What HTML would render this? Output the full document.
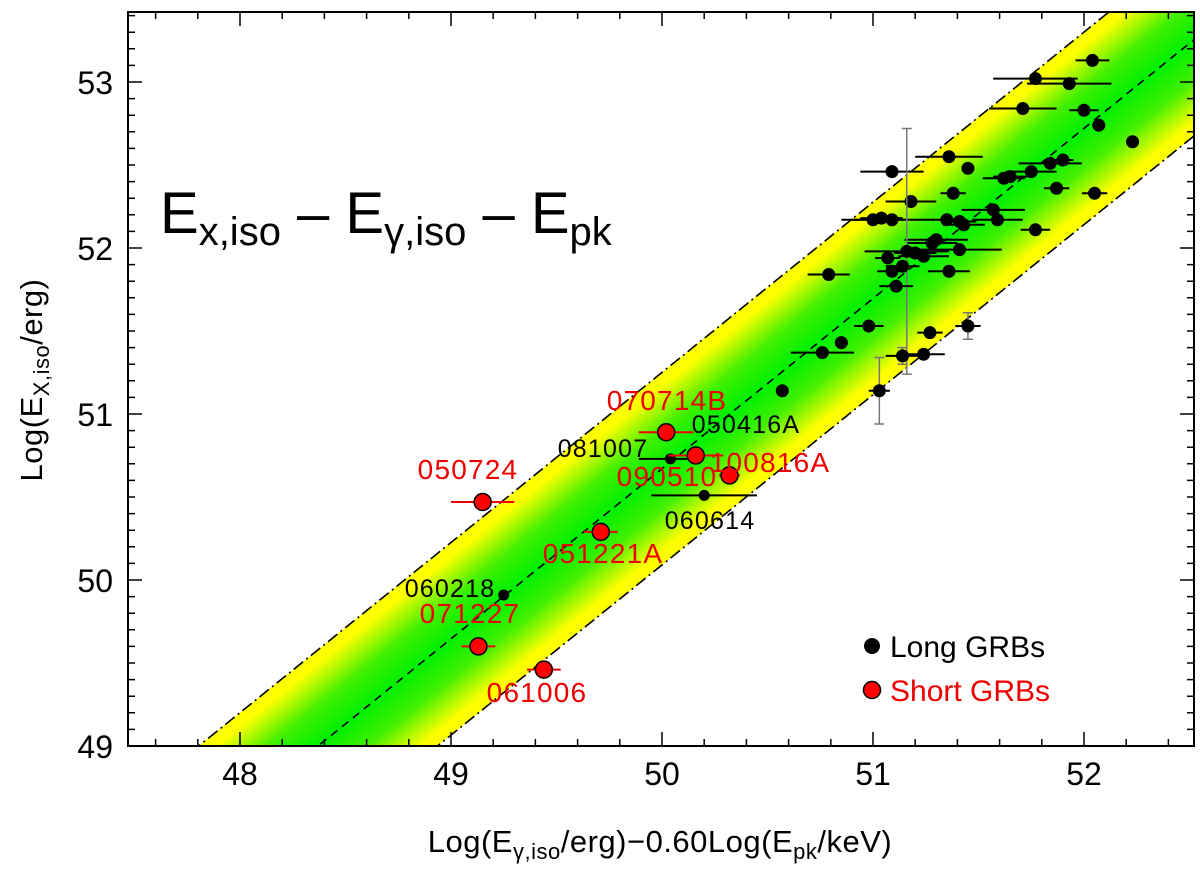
<!DOCTYPE html>
<html><head><meta charset="utf-8"><style>
html,body{margin:0;background:#fff;width:1200px;height:872px;overflow:hidden;position:relative;}
svg{display:block;font-family:"Liberation Sans",sans-serif;}
</style></head><body>
<svg id="chart" width="1200" height="872" style="position:absolute;left:0;top:0"></svg>
<script>
// ---- data ----
const longX=[52.04,51.77,51.93,51.71,52.00,52.07,52.23,51.09,51.36,51.45,51.18,51.38,51.62,51.65,51.75,51.84,51.90,51.87,52.05,51.00,51.04,51.09,51.35,51.41,51.43,51.57,51.59,51.77,51.30,51.28,51.41,51.16,51.20,51.24,51.07,50.79,51.14,51.09,51.11,51.36,50.98,50.85,50.76,51.27,51.45,51.14,51.24,51.03,50.57,50.04,50.20,49.25];
const longY=[53.13,53.02,52.99,52.84,52.83,52.74,52.64,52.46,52.55,52.48,52.28,52.33,52.42,52.43,52.46,52.51,52.53,52.36,52.33,52.17,52.18,52.17,52.17,52.16,52.14,52.23,52.17,52.11,52.05,52.03,51.99,51.98,51.97,51.95,51.94,51.84,51.89,51.86,51.77,51.86,51.53,51.43,51.37,51.49,51.53,51.35,51.36,51.14,51.14,50.73,50.51,49.91];
const longXerr=[0.08,0.2,0.2,0.16,0.07,0.03,0.03,0.15,0.16,0.03,0.12,0.06,0.1,0.08,0.12,0.15,0.05,0.06,0.06,0.15,0.1,0.2,0.07,0.08,0.1,0.15,0.12,0.07,0.15,0.12,0.2,0.2,0.1,0.12,0.06,0.1,0.08,0.07,0.08,0.1,0.07,0.03,0.15,0.06,0.06,0.08,0.1,0.05,0,0.15,0.25,0];
const longYerr=[0,0,0,0,0,0,0,0,0,0,0,0,0,0,0,0,0,0,0,0,0,0,0,0,0,0,0,0,0,0,0,0.74,0,0,0,0,0,0,0,0,0,0,0,0,0.08,0.05,0,0.2,0,0,0,0];
const shortX=[50.02,50.16,50.32,49.15,49.71,49.13,49.44];
const shortY=[50.89,50.75,50.63,50.47,50.29,49.60,49.46];
const shortXerr=[0.13,0.13,0.05,0.15,0.08,0.08,0.08];
const labelNames=["070714B","100816A","090510","050724","051221A","071227","061006","050416A","081007","060614","060218"];
const xTicks=[48,49,50,51,52];
const yTicks=[49,50,51,52,53];
const bandSlope=1.025, bandX0=48.37, bandY0=49, bandHalf=0.58;

// ---- axes ----
const L=128,R=1194,T=12,B=746;
const X=v=>240+(v-48)*211;
const Y=v=>82+(53-v)*166;
const xmin=48+(L-240)/211, xmax=48+(R-240)/211;
const line=(x,o)=>bandY0+bandSlope*(x-bandX0)+o;
const NS="http://www.w3.org/2000/svg";
const svg=document.getElementById('chart');
function mk(tag,attrs,parent){const e=document.createElementNS(NS,tag);for(const k in attrs)e.setAttribute(k,attrs[k]);(parent||svg).appendChild(e);return e;}

const defs=mk('defs',{});
const cp=mk('clipPath',{id:'clip'},defs);mk('rect',{x:L,y:T,width:R-L,height:B-T},cp);
const cx=50, cxp=X(cx), cyp=Y(line(cx,0));
const ddx=211, ddy=166*bandSlope;
const len=Math.hypot(ddx,ddy), nx=ddy/len, ny=ddx/len;
const d=bandHalf*166*ddx/len;
const g=mk('linearGradient',{id:'bandGrad',gradientUnits:'userSpaceOnUse',x1:cxp-nx*d,y1:cyp-ny*d,x2:cxp+nx*d,y2:cyp+ny*d},defs);
[['0','#ffff00'],['0.07','#ffff00'],['0.3','#40f000'],['0.5','#00f000'],['0.7','#40f000'],['0.93','#ffff00'],['1','#ffff00']].forEach(([o,c])=>mk('stop',{offset:o,"stop-color":c},g));

const plot=mk('g',{"clip-path":'url(#clip)'});


const x0=xmin-1,x1=xmax+1;
const band=mk('polygon',{points:`${X(x0)},${Y(line(x0,bandHalf))} ${X(x1)},${Y(line(x1,bandHalf))} ${X(x1)},${Y(line(x1,-bandHalf))} ${X(x0)},${Y(line(x0,-bandHalf))}`,fill:'url(#bandGrad)'},plot);


[[bandHalf,'12 4 2 4','upper-band-edge'],[-bandHalf,'12 4 2 4','lower-band-edge'],[0,'8 6','best-fit-line']].forEach(([o,da,n])=>{
  const l=mk('line',{x1:X(x0),y1:Y(line(x0,o)),x2:X(x1),y2:Y(line(x1,o)),stroke:'#000','stroke-width':1.6,'stroke-dasharray':da},plot);
  
  
});
longX.forEach((v,i)=>{
  const px=X(v),py=Y(longY[i]);
  if(longYerr[i]>0){const e=mk('path',{d:`M${px},${Y(longY[i]-longYerr[i])}V${Y(longY[i]+longYerr[i])}M${px-5},${Y(longY[i]-longYerr[i])}h10M${px-5},${Y(longY[i]+longYerr[i])}h10`,stroke:'#777','stroke-width':1.5,fill:'none'},plot);
    
    }
  if(longXerr[i]>0){const e=mk('line',{x1:X(v-longXerr[i]),x2:X(v+longXerr[i]),y1:py,y2:py,stroke:'#000','stroke-width':2},plot);
    
    }
  const r=i>=49?5.5:6.5;
  const c=mk('circle',{cx:px,cy:py,r:r,fill:'#000'},plot);
  
  
});
shortX.forEach((v,i)=>{
  const py=Y(shortY[i]);
  const e=mk('line',{x1:X(v-shortXerr[i]),x2:X(v+shortXerr[i]),y1:py,y2:py,stroke:'#e00','stroke-width':2},plot);
  
  
  const c=mk('circle',{cx:X(v),cy:py,r:8.5,fill:'#f00',stroke:'#000','stroke-width':1.5},plot);
  
  
});
const labPos=[[667,410,'#e00'],[770,472,'#e00'],[667,486,'#e00'],[468,479,'#e00'],[603,563,'#e00'],[470,623,'#e00'],[537,702,'#e00'],[746,433,'#000'],[603,457,'#000'],[710,529,'#000'],[450,597,'#000']];
labelNames.forEach((n,i)=>{
  const [lx,ly,col]=labPos[i];
  const t=mk('text',{x:lx,y:ly,'text-anchor':'middle','font-size':col=='#e00'?28:25,'letter-spacing':1.2,fill:col});
  t.textContent=n;
  
  
});
const fr=mk('rect',{x:L,y:T,width:R-L,height:B-T,fill:'none',stroke:'#000','stroke-width':2});


let tp='';
for(let v=47.6;v<=52.7;v+=0.2){const px=X(v);if(px<L||px>R)continue;const maj=Math.abs(v-Math.round(v))<0.01;const l=maj?14:7;tp+=`M${px},${B}v${-l}M${px},${T}v${l}`;}
for(let v=48.9;v<=53.45;v+=0.1){const py=Y(v);if(py<T||py>B)continue;const maj=Math.abs(v-Math.round(v))<0.01;const l=maj?14:7;tp+=`M${L},${py}h${l}M${R},${py}h${-l}`;}
const tk=mk('path',{d:tp,stroke:'#000','stroke-width':1.5});


xTicks.forEach(v=>{const t=mk('text',{x:X(v),y:785,'text-anchor':'middle','font-size':32});t.textContent=v;
  
  });
yTicks.forEach(v=>{const t=mk('text',{x:113,y:Y(v)+12,'text-anchor':'end','font-size':32});t.textContent=v;
  
  });
</script>
<svg width="1200" height="872" style="position:absolute;left:0;top:0">
<text x="660" y="852" text-anchor="middle" font-size="31" letter-spacing="0.5" font-family="Liberation Sans,sans-serif">Log(E<tspan font-size="22" dy="7">γ,iso</tspan><tspan dy="-7">/erg)−0.60Log(E</tspan><tspan font-size="22" dy="7">pk</tspan><tspan dy="-7">/keV)</tspan></text>
<text transform="translate(42,380) rotate(-90)" text-anchor="middle" font-size="31" letter-spacing="0.5" font-family="Liberation Sans,sans-serif">Log(E<tspan font-size="22" dy="7">X,iso</tspan><tspan dy="-7">/erg)</tspan></text>
<text x="160" y="233" font-size="58" font-family="Liberation Sans,sans-serif">E<tspan font-size="40" dy="12">x,iso</tspan><tspan dy="-12"> – E</tspan><tspan font-size="40" dy="12">γ,iso</tspan><tspan dy="-12"> – E</tspan><tspan font-size="40" dy="12">pk</tspan></text>
<g>
<circle cx="872" cy="646" r="8" fill="#000"/>
<text x="890" y="657" font-size="30" font-family="Liberation Sans,sans-serif">Long GRBs</text>
<circle cx="872" cy="690" r="8.5" fill="#f00" stroke="#000" stroke-width="1.5"/>
<text x="890" y="701" font-size="30" fill="#e00" font-family="Liberation Sans,sans-serif">Short GRBs</text>
</g>
</svg>
</body></html>
